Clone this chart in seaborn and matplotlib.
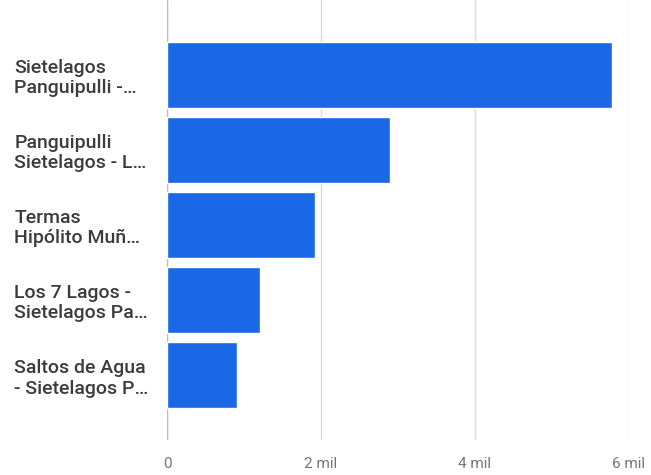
import matplotlib
matplotlib.use("Agg")
import matplotlib.pyplot as plt
import seaborn as sns
import pandas as pd

# datos
lugares = [
    "Sietelagos\nPanguipulli -…",
    "Panguipulli\nSietelagos - L…",
    "Termas\nHipólito Muñ…",
    "Los 7 Lagos -\nSietelagos Pa…",
    "Saltos de Agua\n- Sietelagos P…",
]
visitas = [5780, 2900, 1925, 1210, 910]
ticks_x = [0, 2000, 4000, 6000]
ticks_txt = ["0", "2 mil", "4 mil", "6 mil"]

df = pd.DataFrame({"lugar": lugares, "visitas": visitas})

sns.set_theme(style="white")
plt.rcParams['font.family'] = ['Roboto', 'DejaVu Sans']

fig = plt.figure(figsize=(6.51, 4.75), dpi=100)
ax = fig.add_axes([167/651, 35/475, (629-167)/651, 440/475])

sns.barplot(data=df, x="visitas", y="lugar", color="#1a68e6", saturation=1,
            width=0.88, ax=ax, zorder=3)

ax.set_xlim(0, 6000)
ax.set_ylim(4.86, -1.0)
ax.set_xticks(ticks_x)
ax.set_xticklabels(ticks_txt, color="#757575", fontsize=11)
ax.xaxis.grid(True, color="#d9d9d9", linewidth=1, zorder=0)
ax.tick_params(axis="x", length=0, pad=12)
ax.tick_params(axis="y", length=0, pad=110)
for lbl in ax.get_yticklabels():
    lbl.set_ha("left")
    lbl.set_color("#3c3c3c")
    lbl.set_fontsize(14)
    lbl.set_fontweight("medium")
    lbl.set_linespacing(1.15)
ax.set_xlabel("")
ax.set_ylabel("")
sns.despine(ax=ax, left=True, bottom=True, top=True, right=True)
ax.axvline(0, color="#bdbdbd", linewidth=1, zorder=2)

fig.savefig("out.png", dpi=100)
